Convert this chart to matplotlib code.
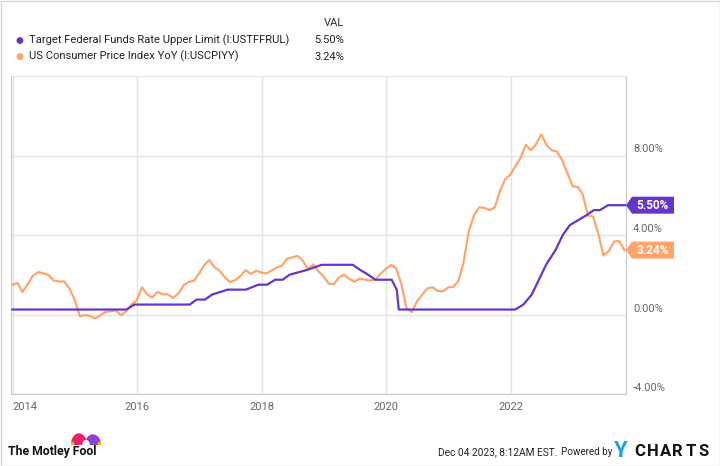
import matplotlib
matplotlib.use("Agg")
import pandas as pd
from matplotlib import pyplot as plt
from matplotlib.patches import Polygon, Rectangle, Ellipse, Circle
from matplotlib.transforms import IdentityTransform, ScaledTranslation

plt.rcParams['font.family'] = ['Roboto', 'DejaVu Sans']

# data
fed_dates = ["2013-12-31", "2015-10-31", "2015-12-17", "2016-11-06", "2016-12-15",
             "2017-02-03", "2017-03-16", "2017-06-15", "2017-09-30", "2017-12-14",
             "2018-02-03", "2018-03-22", "2018-05-05", "2018-06-14", "2018-09-27",
             "2018-12-20", "2019-06-20", "2019-08-01", "2019-09-19", "2019-10-31",
             "2020-02-03", "2020-03-04", "2020-03-16", "2022-01-28", "2022-03-17",
             "2022-05-05", "2022-06-16", "2022-07-28", "2022-09-22", "2022-11-03",
             "2022-12-15", "2023-02-02", "2023-03-23", "2023-05-04", "2023-06-09",
             "2023-07-27", "2023-12-04"]
fed_vals = [0.25, 0.25, 0.50, 0.50, 0.75,
            0.75, 1.00, 1.25, 1.25, 1.50,
            1.50, 1.75, 1.75, 2.00, 2.25,
            2.50, 2.50, 2.25, 2.00, 1.75,
            1.75, 1.25, 0.25, 0.25, 0.50,
            1.00, 1.75, 2.50, 3.25, 4.00,
            4.50, 4.75, 5.00, 5.25, 5.25,
            5.50, 5.50]

cpi_start = "2013-12-31"
cpi_vals = [1.50,
            1.58, 1.13, 1.51, 1.95, 2.13, 2.07, 1.99, 1.70, 1.66, 1.66, 1.32, 0.76,
            -0.09, -0.03, -0.07, -0.20, -0.04, 0.12, 0.17, 0.20, -0.04, 0.17, 0.50, 0.73,
            1.37, 1.02, 0.85, 1.13, 1.02, 1.01, 0.84, 1.06, 1.46, 1.64, 1.69, 2.07,
            2.50, 2.74, 2.38, 2.20, 1.87, 1.63, 1.73, 1.94, 2.23, 2.04, 2.20, 2.11,
            2.07, 2.21, 2.36, 2.46, 2.80, 2.87, 2.95, 2.70, 2.28, 2.52, 2.18, 1.91,
            1.55, 1.52, 1.86, 2.00, 1.79, 1.65, 1.81, 1.75, 1.71, 1.76, 2.05, 2.29,
            2.49, 2.33, 1.54, 0.33, 0.12, 0.65, 0.99, 1.31, 1.37, 1.18, 1.17, 1.36,
            1.40, 1.68, 2.62, 4.16, 4.99, 5.39, 5.37, 5.25, 5.39, 6.22, 6.81, 7.04,
            7.48, 7.87, 8.54, 8.26, 8.58, 9.06, 8.52, 8.26, 8.20, 7.75, 7.11, 6.45,
            6.41, 6.04, 4.98, 4.93, 4.05, 2.97, 3.18, 3.67, 3.70, 3.24]

names = ["Target Federal Funds Rate Upper Limit (I:USTFFRUL)",
         "US Consumer Price Index YoY (I:USCPIYY)"]
last_vals = [5.50, 3.24]
colors = ["#6436c9", "#ffa46b"]
year_ticks = [2014, 2016, 2018, 2020, 2022]
y_ticks = [-4, 0, 4, 8]

W, H = 720, 466
fig = plt.figure(figsize=(W / 100, H / 100), dpi=100)
ax = fig.add_axes([11 / W, 1 - 394 / H, 615 / W, 318 / H])

fed_x = pd.to_datetime(fed_dates)
cpi_x = pd.date_range(cpi_start, periods=len(cpi_vals), freq="ME")
ax.plot(cpi_x, cpi_vals, color=colors[1], lw=1.6, zorder=3)
ax.plot(fed_x, fed_vals, color=colors[0], lw=1.6, zorder=4)

ax.set_xlim(pd.Timestamp("2013-12-23"), pd.Timestamp("2023-11-09"))
ax.set_ylim(-4, 12)

ax.set_xticks([pd.Timestamp(f"{y}-01-01") for y in year_ticks])
ax.set_xticklabels([str(y) for y in year_ticks])
ax.set_yticks(y_ticks)
ax.set_yticklabels([f"{v:.2f}%" for v in y_ticks])
ax.yaxis.tick_right()
ax.tick_params(axis="both", length=0, labelsize=8, colors="#666666")
ax.tick_params(axis="x", pad=6)
ax.tick_params(axis="y", pad=5)
ax.get_xticklabels()[0].set_ha("left")
for lab in ax.get_yticklabels():
    lab.set_transform(lab.get_transform() + ScaledTranslation(0, 7 / 100, fig.dpi_scale_trans))
ax.grid(True, color="#e3e3e3", lw=1)
ax.set_axisbelow(True)
for side in ["left", "bottom", "right"]:
    ax.spines[side].set_color("#c8c8c8")
ax.spines["top"].set_color("#e3e3e3")

# value tags on the right
for val, col in zip(last_vals, colors):
    px, py = ax.transData.transform((ax.get_xlim()[1], val))
    h, body0, body1 = 8.5, px + 6, px + 48
    tag = Polygon([(px, py), (body0, py + h), (body1, py + h), (body1, py - h), (body0, py - h)],
                  closed=True, facecolor=col, edgecolor="none", transform=IdentityTransform())
    fig.add_artist(tag)
    fig.text((body0 + body1) / 2 / W, py / H, f"{val:.2f}%", color="white", fontsize=8.5,
             fontweight="bold", ha="center", va="center")

# legend header
fig.text(344 / W, 1 - 22.5 / H, "VAL", fontsize=8, ha="right", va="center", color="#333333")
for i, (name, val, col) in enumerate(zip(names, last_vals, colors)):
    yy = 1 - (40 + 16.5 * i) / H
    fig.text(19 / W, yy, "\u25cf", color=col, fontsize=6.5, ha="center", va="center")
    fig.text(29 / W, yy, name, fontsize=8.1, ha="left", va="center", color="#222222")
    fig.text(344 / W, yy, f"{val:.2f}%", fontsize=8, ha="right", va="center", color="#222222")

# footer: Motley Fool logo
fig.text(8 / W, 1 - 452 / H, "The Motley Fool", fontsize=8.8, ha="left", va="center",
         color="#111111", fontweight="bold")
hat = fig.add_axes([71 / W, 1 - 445 / H, 30 / W, 12 / H])
hat.set_xlim(0, 30)
hat.set_ylim(0, 12)
hat.axis("off")
hat.add_patch(Ellipse((8, 0), 15, 22, color="#e8236f"))
hat.add_patch(Ellipse((22, 0), 15, 20, color="#8c44d4"))
hat.add_patch(Ellipse((15, 0), 6, 9, color="white"))
for cx in [1.3, 28.7]:
    hat.add_patch(Circle((cx, 1.3), 1.3, color="#f7b500"))

# footer: date and YCharts mark
fig.text(557 / W, 1 - 452 / H, "Dec 04 2023, 8:12AM EST.", fontsize=7.3, ha="right",
         va="center", color="#222222")
fig.text(612 / W, 1 - 452 / H, "Powered by", fontsize=7.1, ha="right", va="center", color="#222222")
fig.text(614 / W, 1 - 451 / H, "Y", fontsize=16, fontweight="bold", ha="left", va="center",
         color="#1fa3e0")
for k, ch in enumerate("CHARTS"):
    fig.text((634 + 12.8 * k) / W, 1 - 451 / H, ch, fontsize=12, fontweight="bold",
             ha="left", va="center", color="#111111")

fig.add_artist(Rectangle((0.5, 0.5), W - 1, H - 1, fill=False, edgecolor="#d6d6d6", lw=1,
                         transform=IdentityTransform()))

fig.savefig("out.png", dpi=100)
